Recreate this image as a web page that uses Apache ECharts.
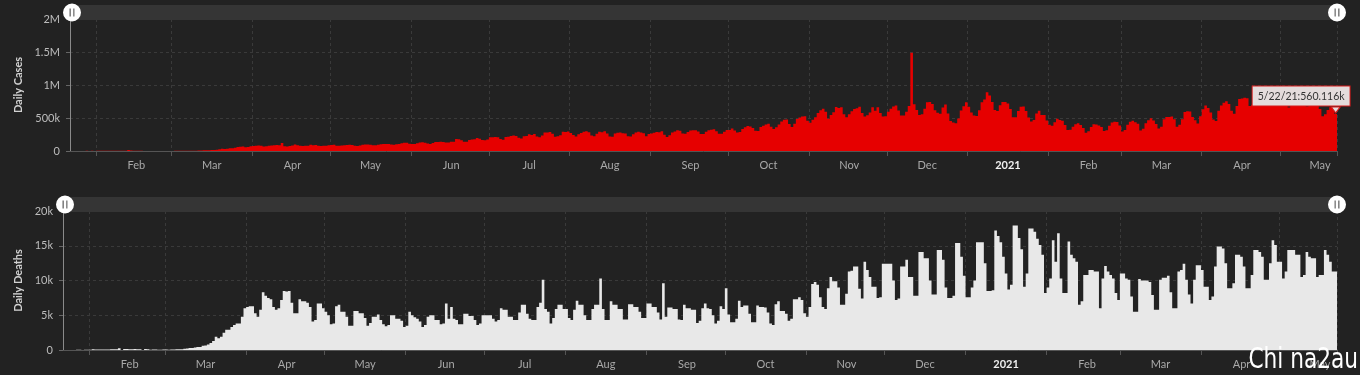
<!DOCTYPE html>
<html>
<head>
<meta charset="utf-8">
<script src="https://cdn.jsdelivr.net/npm/echarts@6/dist/echarts.min.js"></script>
<style>
html,body{margin:0;padding:0;background:#222222;}
#chart{width:1360px;height:375px;}
</style>
</head>
<body>
<div id="chart"></div>
<script>
// ---- data (one value per day, from 1/22/20 to 5/22/21; rows are Sun..Sat weeks) ----
const startDate = [2020, 0, 22];
const monthNames = ['Jan','Feb','Mar','Apr','May','Jun','Jul','Aug','Sep','Oct','Nov','Dec'];

// Daily cases, in thousands
const dailyCasesK = [
  0.6,0.1,0.3,0.5,
  0.7,0.8,2.7,0.6,2.1,1.7,2.1,
  2.6,2.8,3.2,3.9,3.7,3.2,3.4,
  2.7,3.0,2.5,2.1,15.1,6.5,2.1,
  2.1,2.1,1.9,1.8,0.6,1.0,1.0,
  0.6,0.6,0.9,0.9,1.2,1.4,1.8,
  1.8,2.0,2.5,2.3,2.8,3.8,3.7,
  3.8,3.8,4.6,7.3,7.3,10.3,10.7,
  11.5,13.8,14.6,17.8,28.2,32.4,31.6,
  33.2,41.3,42.5,49.5,61.4,62.6,67.0,
  57.6,61.7,73.5,76,81,83,81,
  69,72,79,85,88,90,86,
  120,72,70,75,82,97,88,
  80,75,78,80,93,88,92,
  80,75,78,80,88,90,96,
  80,78,83,88,92,96,90,
  80,76,85,93,98,97,96,
  88,87,95,103,107,106,107,
  98,94,103,106,119,124,125,
  110,106,105,119,128,131,126,
  115,107,120,138,136,140,135,
  128,128,139,142,182,177,161,
  140,141,168,176,179,196,187,
  165,164,176,208,209,212,207,
  183,172,211,215,229,234,227,
  199,188,223,229,254,243,258,
  219,209,234,280,282,286,260,
  215,222,239,290,289,295,274,
  243,218,253,273,290,300,285,
  236,223,262,290,285,300,264,
  221,216,264,278,280,270,265,
  223,220,255,282,291,280,269,
  225,256,265,275,287,284,300,
  245,212,239,280,295,313,307,
  265,260,289,310,316,313,294,
  257,258,290,316,321,331,298,
  263,260,292,318,320,341,310,
  281,288,335,358,378,370,348,
  307,303,364,384,401,412,368,
  333,358,400,447,474,477,410,
  363,414,484,509,522,528,459,
  428,472,511,575,617,642,596,
  489,544,587,666,651,663,555,
  511,556,604,637,649,670,574,
  521,542,582,662,608,662,576,
  523,527,593,640,673,689,612,
  537,539,593,682,1490,710,621,
  544,558,641,738,742,713,617,
  581,564,658,704,570,456,433,
  420,491,615,677,738,670,582,
  536,531,617,740,780,890,840,
  741,620,606,693,743,741,718,
  636,512,512,606,669,673,605,
  509,448,469,568,609,547,544,
  461,396,381,435,489,468,457,
  394,317,322,367,406,422,393,
  349,278,298,363,404,401,388,
  363,302,314,383,432,442,441,
  388,294,317,399,445,457,437,
  411,310,336,422,466,495,462,
  410,342,368,480,514,515,521,
  480,368,399,482,592,602,599,
  516,467,418,526,631,689,651,
  584,478,454,611,690,731,752,
  713,608,566,682,788,797,808,
  800,680,700,820,900,930,920,
  880,720,740,850,920,940,880,
  793,688,658,794,866,883,823,
  747,680,674,714,823,755,715,
  635,525,555,620,661,655,560.116
];

// Daily deaths
const dailyDeaths = [
  17,1,8,16,
  14,26,49,2,38,42,46,
  103,64,66,73,73,86,89,
  97,108,97,254,13,143,142,
  106,98,139,115,125,4,149,
  97,52,72,61,35,39,59,
  66,53,84,62,98,102,109,
  196,226,275,295,351,449,431,
  600,650,800,1000,1300,1900,1700,
  1900,2500,2900,2900,3300,3600,3800,
  3800,4800,6000,6200,6300,6300,5300,
  4800,5800,8300,7800,7500,7300,6200,
  5800,6000,7200,8500,8400,8500,6800,
  5300,5300,7300,7000,7000,6800,6200,
  4100,4300,6700,6700,6000,5500,5000,
  3700,3800,6300,6500,5500,5500,4800,
  3500,3500,5600,5600,5300,5300,4600,
  3500,3900,4800,4800,5100,4300,3700,
  3400,3600,5000,5000,4500,4500,4200,
  3300,3500,5500,5000,4700,4500,4100,
  3300,3600,4800,5000,5000,4300,4300,
  3700,3800,6700,4500,6200,4500,4300,
  3700,3700,5200,5200,4900,4900,4300,
  3600,3800,5000,5000,5000,5000,4500,
  4100,4300,6000,5800,5800,4800,4800,
  4300,4300,5400,6500,6500,5200,4500,
  4300,4300,6200,6800,10100,5900,5500,
  3800,4600,5900,6500,6500,5900,5900,
  4600,4300,5800,7100,6500,6500,5000,
  4300,4300,5900,6500,6500,10300,5900,
  4300,4300,7000,6500,6500,5900,5900,
  4400,4400,6600,6600,6200,6200,5500,
  4600,4600,6700,6700,6200,6200,5400,
  4400,9600,4800,6100,6100,5900,5900,
  4400,4300,6500,6000,6000,5800,5800,
  3900,4200,6000,6700,6000,5900,5000,
  3800,4200,6300,5900,8900,5100,4000,
  4000,4500,7100,6200,6400,6400,5200,
  4000,4000,6400,6200,6200,6100,5400,
  3800,3600,6600,7000,5600,5600,5200,
  4200,4500,7300,7300,7600,7200,5300,
  4800,6200,9500,9800,9400,7600,6200,
  5900,8900,10500,9900,9900,9000,6500,
  6500,8100,11300,11400,12000,12000,8800,
  7400,12700,11500,10500,9100,9100,7500,
  7600,12400,12400,12400,12400,10000,7200,
  7400,12000,12000,13000,10500,10500,7800,
  7800,14100,14100,13200,13200,10000,8000,
  8000,14400,14400,13000,9000,7500,7500,
  7800,15400,15400,13400,10700,7600,7600,
  9000,10000,15500,15500,15500,12500,8500,
  8500,8600,17200,16400,15500,13400,11000,
  8700,9400,17900,17900,16100,14500,9100,
  11000,17500,17500,17000,16000,15100,13700,
  8200,9000,10300,15800,12700,16800,10300,
  8200,8200,15600,13700,13200,12700,6500,
  7000,10800,10800,11500,11500,11300,11300,
  6000,10300,12100,11300,10800,10300,8200,
  7200,11000,11000,10300,10100,7700,5500,
  5500,10200,10000,10000,10000,9800,7900,
  5800,5800,10100,10400,10400,10700,8300,
  6000,6000,11300,11500,12400,10100,8000,
  6700,10100,12200,12200,11500,9100,9100,
  7200,7700,12000,14900,14900,14600,12500,
  8900,8900,9600,13700,13700,13400,12000,
  8900,8900,10800,14400,14400,14100,13400,
  10100,10100,12500,15800,15100,12700,12700,
  10300,11300,14400,14400,14400,13700,13700,
  10500,10800,14100,13400,13200,13200,10500,
  10800,10800,14400,13700,12700,11300,11300
];

const casesTicksK = [0, 500, 1000, 1500, 2000];
const deathsTicks = [0, 5000, 10000, 15000, 20000];

// ---- categories (dates) ----
const dates = [];
for (let i = 0; i < dailyCasesK.length; i++) {
  const d = new Date(Date.UTC(startDate[0], startDate[1], startDate[2] + i));
  dates.push((d.getUTCMonth() + 1) + '/' + d.getUTCDate() + '/' + String(d.getUTCFullYear()).slice(2));
}
const dayOf = v => v.split('/')[1];
const isMonthStart = (i, v) => dayOf(v) === '1';
const isMidMonth = (i, v) => dayOf(v) === '16';
const monthLabel = v => {
  const p = v.split('/');
  return p[0] === '1' ? '{yr|20' + p[2] + '}' : monthNames[+p[0] - 1];
};
const lastIdx = dailyCasesK.length - 1;
const tipText = dates[lastIdx] + ':' + dailyCasesK[lastIdx].toFixed(3) + 'k';

const FONT = 'Lato, "Noto Sans", sans-serif';
const gridLine = { show: true, lineStyle: { color: '#3a3a3a', type: [3, 3], width: 1 } };
const handlePath = 'path://M0,-10A10,10 0 1,1 0,10A10,10 0 1,1 0,-10Z M-2.6,-4.5L-2.6,4.5L-1.6,4.5L-1.6,-4.5Z M1.6,-4.5L1.6,4.5L2.6,4.5L2.6,-4.5Z';

function xAxisCfg(gridIndex) {
  return {
    type: 'category', gridIndex, data: dates, boundaryGap: true,
    axisLine: { show: true, lineStyle: { color: '#555', width: 1 } },
    axisTick: { show: true, interval: isMonthStart, length: 5, lineStyle: { color: '#555' } },
    splitLine: Object.assign({ interval: isMonthStart }, gridLine),
    axisLabel: {
      interval: isMidMonth, formatter: monthLabel, color: '#a9a9a9', fontSize: 11,
      fontFamily: FONT, margin: 9,
      rich: { yr: { color: '#f0f0f0', fontWeight: 'bold', fontSize: 11, fontFamily: FONT } }
    }
  };
}
function yAxisCfg(gridIndex, name, ticks, fmt, nameGap) {
  return {
    type: 'value', gridIndex, min: ticks[0], max: ticks[ticks.length - 1],
    interval: ticks[1] - ticks[0],
    name, nameLocation: 'middle', nameGap,
    nameTextStyle: { color: '#d2d2d2', fontWeight: 'bold', fontSize: 11, fontFamily: FONT },
    axisLine: { show: true, lineStyle: { color: '#8a8a8a', width: 1 } },
    axisTick: { show: true, length: 4, lineStyle: { color: '#666' } },
    splitLine: gridLine,
    axisLabel: { formatter: fmt, color: '#bdbdbd', fontSize: 11, fontFamily: FONT, margin: 10 }
  };
}
function sliderCfg(xAxisIndex, left, top) {
  return {
    type: 'slider', xAxisIndex, left, right: 23, top, height: 15,
    start: 0, end: 100, filterMode: 'none',
    backgroundColor: '#353535', borderColor: 'rgba(0,0,0,0)', fillerColor: 'rgba(0,0,0,0)',
    showDataShadow: false, showDetail: false, brushSelect: false, moveHandleSize: 0,
    dataBackground: { lineStyle: { opacity: 0 }, areaStyle: { opacity: 0 } },
    selectedDataBackground: { lineStyle: { opacity: 0 }, areaStyle: { opacity: 0 } },
    handleIcon: handlePath, handleSize: 18,
    handleStyle: { color: '#ffffff', borderWidth: 0, opacity: 1 },
    emphasis: { handleStyle: { color: '#ffffff', borderWidth: 0 } }
  };
}

const chart = echarts.init(document.getElementById('chart'), null, { renderer: 'canvas' });
chart.setOption({
  backgroundColor: '#222222',
  animation: false,
  grid: [
    { left: 70, right: 23, top: 19, height: 132 },
    { left: 63, right: 23, top: 211, height: 139 }
  ],
  xAxis: [xAxisCfg(0), xAxisCfg(1)],
  yAxis: [
    yAxisCfg(0, 'Daily Cases', casesTicksK, v => v === 0 ? '0' : (v >= 1000 ? (v / 1000) + 'M' : v + 'k'), 34),
    yAxisCfg(1, 'Daily Deaths', deathsTicks, v => v === 0 ? '0' : (v / 1000) + 'k', 27)
  ],
  dataZoom: [sliderCfg(0, 70, 5), sliderCfg(1, 63, 197)],
  series: [
    {
      type: 'bar', xAxisIndex: 0, yAxisIndex: 0, data: dailyCasesK,
      barCategoryGap: '0%', barGap: '0%', large: true, largeThreshold: 50,
      itemStyle: { color: '#e60000' },
      emphasis: { disabled: true },
      markPoint: {
        symbol: 'triangle', symbolRotate: 180, symbolSize: [9, 6], symbolOffset: [0, -4],
        itemStyle: { color: '#e4dcdc', borderColor: '#d41a1a', borderWidth: 1 },
        label: {
          show: true, formatter: tipText, position: [19, -20], align: 'right',
          color: '#333', fontSize: 10.5, fontFamily: FONT,
          backgroundColor: '#e4dcdc', borderColor: '#d41a1a', borderWidth: 1,
          padding: [4, 5, 4, 5]
        },
        data: [{ coord: [lastIdx, dailyCasesK[lastIdx]] }]
      }
    },
    {
      type: 'bar', xAxisIndex: 1, yAxisIndex: 1, data: dailyDeaths,
      barCategoryGap: '0%', barGap: '0%', large: true, largeThreshold: 50,
      itemStyle: { color: '#e8e8e8' },
      emphasis: { disabled: true }
    }
  ],
  graphic: [{
    type: 'text', right: 2, bottom: 0, z: 100, scaleX: 0.86,
    style: { text: 'Chi na2au', fill: '#ffffff', font: '28px "Liberation Sans Narrow", "DejaVu Sans Condensed", sans-serif' }
  }]
});
</script>
</body>
</html>
